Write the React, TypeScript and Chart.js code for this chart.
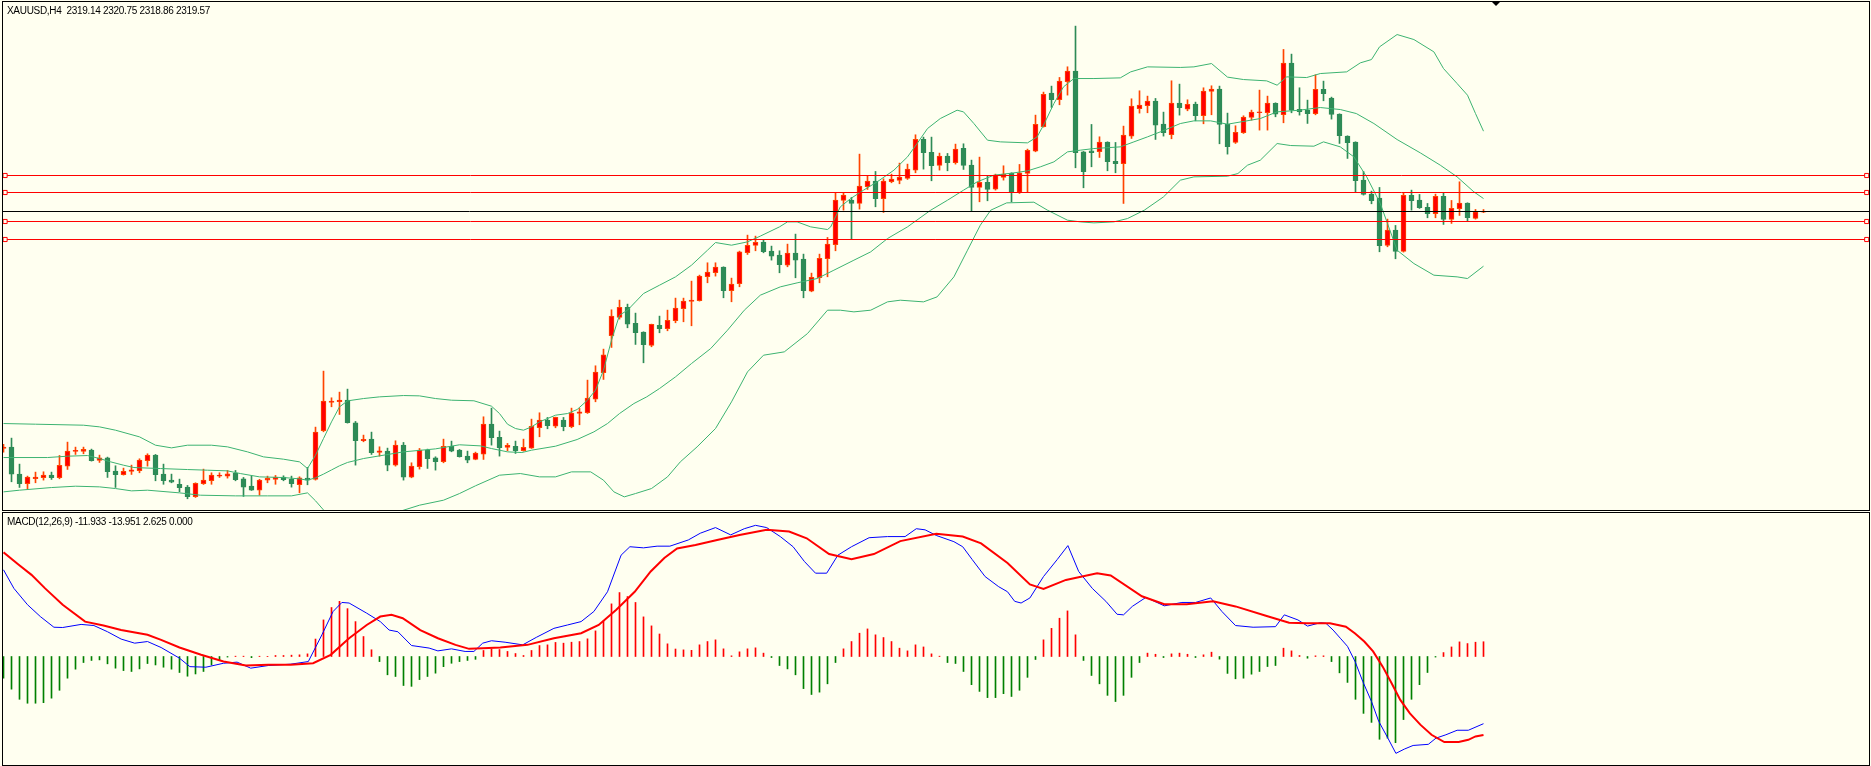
import React, { useEffect, useRef } from "react";
import { Chart, registerables } from "chart.js";

Chart.register(...registerables);

// ---------- data ----------
const symbolLabel = "XAUUSD,H4";
const macdName = "MACD(12,26,9)";
const macdReadout = ["-11.933", "-13.951", "2.625", "0.000"];

const opens = [2177.4,2178.2,2162.0,2156.2,2159.2,2159.8,2161.4,2159.8,2166.8,2175.6,
 2175.6,2176.4,2170.2,2171.8,2163.8,2161.6,2163.6,2164.0,2170.0,2173.4,
 2162.0,2158.4,2155.9,2154.2,2148.4,2156.2,2158.0,2160.8,2160.8,2162.4,
 2159.2,2154.8,2152.4,2158.4,2158.8,2160.2,2158.8,2155.6,2159.6,2158.8,
 2188.0,2205.0,2205.4,2206.4,2192.8,2182.0,2183.0,2175.0,2175.8,2167.4,
 2179.4,2160.2,2166.4,2176.4,2171.8,2169.4,2178.6,2176.4,2172.8,2170.8,
 2174.0,2192.0,2184.0,2178.0,2178.6,2176.0,2177.6,2189.8,2194.4,2190.8,
 2194.4,2190.4,2198.4,2198.8,2207.0,2222.8,2245.0,2256.0,2262.0,2252.4,
 2247.2,2239.2,2251.2,2249.2,2254.0,2261.2,2265.6,2266.0,2280.4,2282.8,
 2286.2,2272.0,2276.2,2294.8,2299.2,2301.2,2295.8,2293.4,2287.4,2294.6,
 2291.0,2271.8,2279.8,2291.2,2299.6,2326.2,2326.4,2324.4,2334.4,2337.8,
 2327.2,2337.4,2338.2,2339.4,2344.4,2362.8,2355.0,2347.2,2352.8,2348.8,
 2357.4,2347.4,2334.0,2337.0,2333.0,2340.0,2342.4,2331.0,2342.4,2355.8,
 2370.4,2390.6,2386.6,2397.4,2403.8,2355.4,2356.0,2355.4,2361.2,2349.6,
 2348.2,2364.8,2381.2,2383.0,2385.8,2372.0,2365.6,2384.6,2381.0,2384.0,
 2377.0,2391.6,2393.0,2371.8,2361.0,2366.8,2376.0,2378.8,2378.8,2384.4,
 2377.6,2408.6,2380.8,2380.4,2378.2,2392.8,2387.6,2378.0,2364.8,2361.2,
 2338.4,2330.0,2327.6,2299.2,2308.4,2295.6,2329.2,2326.4,2322.0,2318.2,
 2328.6,2314.8,2321.2,2324.6,2315.4,2319.14];

const highs = [2179.8,2183.6,2168.0,2160.8,2163.2,2163.4,2163.2,2173.2,2181.2,2178.2,
 2178.2,2177.0,2173.4,2172.2,2167.0,2165.6,2167.4,2171.2,2174.2,2173.8,
 2168.0,2162.0,2159.0,2155.2,2156.8,2165.0,2162.8,2162.8,2164.2,2164.2,
 2160.0,2160.8,2158.9,2160.8,2161.2,2161.0,2160.8,2160.4,2166.0,2190.2,
 2223.8,2207.8,2211.2,2213.0,2193.6,2185.4,2187.2,2178.4,2177.6,2182.0,
 2181.0,2168.8,2177.4,2177.0,2172.4,2183.0,2181.8,2176.8,2175.8,2175.2,
 2196.4,2201.6,2187.8,2180.4,2181.8,2183.0,2195.0,2198.8,2196.0,2196.2,
 2196.0,2201.6,2201.4,2218.4,2227.0,2237.0,2260.6,2266.4,2264.0,2258.6,
 2247.4,2252.0,2256.8,2260.4,2267.6,2267.6,2277.8,2281.4,2288.8,2288.8,
 2286.4,2279.6,2295.8,2305.4,2304.8,2302.4,2298.8,2296.0,2300.0,2306.0,
 2294.0,2282.6,2294.0,2304.0,2330.8,2330.8,2328.0,2354.0,2341.0,2343.6,
 2339.2,2342.0,2348.6,2348.0,2365.6,2364.2,2364.2,2354.6,2354.4,2360.0,
 2360.2,2350.4,2352.2,2340.8,2342.0,2347.0,2342.8,2347.8,2357.0,2377.4,
 2391.2,2394.8,2400.0,2406.4,2430.8,2355.6,2371.8,2364.4,2361.4,2361.0,
 2370.8,2387.2,2392.0,2388.8,2387.4,2379.2,2398.0,2396.0,2386.6,2385.2,
 2393.8,2395.0,2394.8,2378.6,2371.0,2377.0,2380.4,2392.4,2388.8,2384.8,
 2416.8,2414.0,2393.8,2386.4,2401.6,2397.8,2388.2,2378.2,2365.0,2361.4,
 2343.6,2331.8,2334.0,2315.0,2311.2,2330.8,2332.4,2329.8,2324.4,2330.0,
 2330.8,2326.2,2337.4,2324.8,2320.8,2320.75];

const lows = [2175.2,2157.4,2154.0,2152.8,2156.8,2158.4,2158.8,2159.2,2164.8,2173.8,
 2174.2,2169.8,2169.0,2160.0,2154.0,2161.4,2161.8,2162.8,2166.8,2158.0,
 2155.9,2156.8,2151.4,2147.2,2148.0,2155.8,2155.9,2160.0,2159.6,2158.0,
 2148.6,2152.2,2149.4,2156.8,2155.9,2158.0,2154.2,2150.8,2155.6,2158.4,
 2187.4,2202.4,2197.8,2192.6,2167.4,2181.4,2173.8,2172.8,2164.0,2166.8,
 2158.4,2159.8,2165.0,2165.4,2164.4,2168.8,2175.4,2172.2,2168.8,2170.6,
 2170.8,2179.4,2172.8,2176.0,2174.4,2175.8,2177.4,2184.4,2189.2,2189.8,
 2188.0,2189.8,2191.6,2198.4,2205.4,2218.8,2238.0,2255.0,2249.8,2239.8,
 2228.8,2238.4,2246.8,2248.0,2252.8,2253.4,2251.0,2265.8,2276.8,2280.8,
 2267.8,2265.4,2274.4,2293.8,2296.0,2294.8,2290.4,2282.8,2286.4,2279.8,
 2267.8,2271.4,2276.8,2280.4,2296.0,2320.4,2303.0,2321.0,2332.8,2322.4,
 2319.0,2336.8,2336.2,2338.8,2342.8,2345.0,2338.0,2344.4,2344.0,2348.0,
 2344.8,2319.6,2325.4,2326.0,2332.4,2338.4,2325.4,2330.4,2331.4,2355.4,
 2370.2,2382.0,2383.6,2389.4,2345.8,2333.8,2346.4,2352.0,2344.0,2342.8,
 2324.4,2363.4,2378.6,2378.8,2362.8,2364.8,2363.2,2377.4,2380.0,2374.0,
 2372.2,2377.6,2360.2,2354.0,2360.4,2366.4,2374.4,2368.4,2368.4,2376.4,
 2372.8,2378.8,2377.4,2372.4,2377.6,2386.0,2375.0,2360.4,2351.4,2331.0,
 2329.4,2324.2,2295.4,2298.4,2291.2,2295.2,2320.4,2321.4,2315.8,2315.8,
 2311.8,2312.4,2317.2,2314.0,2315.0,2318.86];

const closes = [2178.2,2162.0,2156.2,2160.2,2160.2,2161.4,2159.8,2167.2,2175.8,2176.0,
 2176.8,2170.0,2171.8,2163.4,2161.6,2163.6,2164.6,2170.4,2173.4,2161.6,
 2158.0,2157.2,2153.8,2148.4,2156.4,2158.4,2161.4,2161.4,2162.2,2158.6,
 2154.2,2152.4,2158.4,2159.4,2160.2,2158.6,2156.2,2159.8,2158.4,2187.2,
 2205.8,2205.8,2206.4,2192.8,2182.0,2182.8,2174.8,2176.0,2167.4,2179.4,
 2160.2,2166.8,2176.4,2171.2,2169.4,2178.6,2175.8,2172.4,2170.4,2174.6,
 2192.0,2183.8,2177.8,2179.2,2176.0,2178.0,2190.6,2194.4,2191.0,2196.0,
 2190.4,2198.6,2199.4,2207.6,2223.2,2233.6,2256.8,2262.0,2252.0,2246.8,
 2239.6,2251.8,2249.2,2254.2,2261.6,2265.8,2266.4,2280.8,2283.2,2286.2,
 2272.0,2276.0,2295.4,2299.2,2301.0,2295.4,2292.8,2287.6,2294.6,2290.4,
 2272.0,2280.0,2291.4,2300.0,2326.4,2329.4,2324.4,2334.8,2337.8,2327.2,
 2337.8,2339.0,2340.2,2345.0,2362.8,2354.8,2347.0,2352.8,2348.8,2357.0,
 2347.2,2334.0,2337.0,2332.8,2341.4,2342.0,2331.0,2342.8,2356.2,2371.8,
 2389.8,2386.6,2397.8,2403.8,2354.8,2343.4,2354.8,2361.2,2349.4,2348.2,
 2365.4,2382.8,2383.4,2385.8,2371.4,2366.8,2384.6,2381.8,2383.8,2377.0,
 2391.8,2393.0,2371.8,2358.4,2367.0,2376.2,2379.2,2379.2,2384.6,2378.0,
 2408.6,2380.4,2379.4,2378.2,2392.8,2390.2,2377.8,2365.0,2360.8,2338.0,
 2329.8,2326.0,2299.0,2308.4,2295.6,2329.2,2326.0,2321.8,2318.2,2328.6,
 2314.8,2321.4,2324.6,2315.8,2319.4,2319.57];

// Bollinger bands (20,2), read as [bar index, price]
const bbUpper = [[0,2192.35],[4,2191.95],[10,2191.35],[12,2190.35],[14,2188.35],[17,2184.35],[19,2179.35],[21,2177.75],[23,2179.35],[26,2179.35],[28,2178.35],[30.5,2175.35],[32.5,2172.35],[35,2170.95],[37,2169.35],[38,2165.35],[39,2173.35],[40,2183.35],[41,2193.35],[42,2202.35],[43,2205.95],[45,2207.35],[47,2208.35],[50,2209.15],[52,2208.95],[54,2207.35],[56,2206.35],[58.8,2206.0],[61,2202.75],[62,2198.35],[63,2191.95],[64,2189.35],[65,2188.35],[66,2190.35],[67,2193.35],[69,2197.35],[70.5,2198.35],[71.7,2200.75],[73,2206.35],[74,2212.35],[75,2224.35],[76,2242.35],[77,2257.35],[78,2260.35],[79,2265.35],[80,2270.35],[82,2275.35],[84,2280.35],[86,2287.35],[88,2296.35],[89,2300.95],[91,2299.35],[93,2301.35],[94.6,2304.8],[97,2310.35],[98,2313.35],[99.2,2313.35],[100.9,2310.35],[103,2308.75],[103.4,2310.35],[104.6,2322.35],[105.9,2327.35],[107.5,2332.35],[109.2,2337.35],[111.3,2344.35],[113,2352.35],[114.2,2360.35],[115.5,2369.35],[117.1,2375.35],[119.2,2380.35],[120,2379.35],[121.3,2372.35],[123,2362.35],[124.6,2361.35],[128,2360.75],[129.2,2364.35],[130,2371.35],[131.3,2384.35],[132.5,2394.35],[133.8,2399.35],[136.3,2399.35],[139.6,2399.75],[140.9,2403.35],[143,2406.35],[147.1,2406.0],[148.8,2406.35],[151,2408.35],[153,2400.2],[155,2398.75],[157.9,2397.95],[159.2,2395.35],[160.4,2400.35],[162.9,2399.95],[164.6,2402.35],[167.9,2403.35],[169.6,2408.75],[171,2410.75],[172,2418.35],[174.2,2425.75],[176.3,2422.75],[178.8,2415.35],[180,2405.35],[181.7,2396.35],[183,2389.35],[184,2378.35],[185,2367.75]];

const bbMiddle = [[0,2171.95],[5.5,2171.95],[8,2172.75],[10.5,2173.15],[12,2171.35],[13.4,2169.35],[15,2167.35],[16.3,2165.95],[19.6,2165.35],[23,2164.75],[25.5,2164.35],[28,2163.95],[29.6,2162.35],[32,2160.35],[35,2159.95],[37,2159.15],[38,2158.35],[39,2159.8],[40,2162.0],[41,2164.5],[42,2167.0],[43,2169.0],[45,2171.35],[50,2175.35],[54,2177.15],[57,2179.6],[59.6,2178.95],[61,2177.35],[63,2175.35],[64.8,2174.95],[66,2176.35],[69,2178.75],[71.7,2182.75],[73.8,2187.35],[75.5,2192.35],[77,2198.35],[78.8,2204.35],[80.4,2208.35],[82,2213.35],[84,2220.35],[86,2228.35],[88.4,2237.35],[90.5,2248.35],[92.6,2260.35],[94.6,2269.35],[97.1,2274.35],[99.2,2276.75],[101.7,2279.35],[103.8,2284.35],[106.3,2290.35],[108.4,2295.35],[110.5,2303.35],[113,2310.35],[115.9,2320.35],[118,2326.35],[120,2332.35],[121.7,2337.35],[123.8,2341.35],[126.3,2342.75],[128,2343.95],[129.6,2346.35],[131.3,2349.35],[133,2355.35],[134.6,2356.35],[136.3,2357.35],[139.6,2358.35],[141.3,2361.35],[143,2364.35],[144.6,2367.35],[147.1,2372.35],[148.8,2373.95],[150.9,2373.95],[153,2371.95],[157.1,2375.35],[159.2,2379.35],[162,2380.35],[164.6,2381.95],[167.1,2380.75],[169.1,2378.35],[171.3,2372.35],[174.2,2362.75],[177.1,2354.75],[179.6,2347.35],[181.7,2340.35],[183.8,2331.35],[185,2327.35]];

const bbLower = [[0,2151.35],[2,2152.35],[6,2153.95],[9,2154.75],[12,2154.35],[14,2153.35],[16,2151.95],[18,2152.35],[22,2150.75],[24.6,2149.35],[29,2148.95],[33,2148.95],[36,2148.95],[38,2150.75],[39,2146.0],[40,2140.5],[41,2135.6],[42,2131.65],[43,2132.0],[45,2135.35],[47,2136.5],[49,2139.0],[50,2140.35],[52,2143.35],[55,2146.35],[57,2150.35],[59,2155.0],[62,2161.35],[64.6,2162.35],[67,2160.35],[69,2160.35],[71,2163.35],[73.4,2163.35],[75,2158.35],[76.3,2151.35],[77.6,2148.35],[79,2150.35],[81,2153.35],[83,2160.35],[84.6,2169.35],[86.7,2178.35],[89,2189.35],[91,2205.35],[93,2223.35],[95,2233.35],[97.6,2235.35],[100.5,2246.35],[103,2260.35],[104.6,2260.35],[106.3,2259.35],[108.4,2260.35],[110.5,2265.35],[112.1,2266.35],[115,2265.35],[116.7,2268.35],[118.8,2280.35],[120.5,2296.35],[122.1,2311.35],[123.4,2320.35],[125.4,2324.75],[128.8,2325.15],[130.5,2320.35],[133,2314.35],[134.6,2313.35],[136.3,2312.75],[138.8,2313.35],[140.5,2315.35],[142.6,2320.35],[145,2328.35],[147.1,2338.35],[148.8,2340.35],[153,2340.75],[154.3,2342.35],[155.5,2347.35],[157.1,2350.35],[159.2,2360.35],[160.9,2359.15],[163.8,2358.75],[165,2361.35],[167.1,2358.35],[168.8,2352.35],[170.4,2340.35],[172.1,2324.35],[174.2,2296.35],[176.3,2288.35],[178.8,2281.35],[181.7,2280.35],[183,2279.35],[185,2286.75]];

// horizontal levels
const levelPrices = [2341.17, 2330.97, 2313.57, 2302.77];
const bidPrice = 2319.57;

// MACD, read as [bar index, value]
const macdMain = [[0,15.4],[1.3,12.1],[3,9.2],[4.6,7.1],[6.3,5.2],[7.4,5.15],[9.7,5.7],[11.3,5.5],[13,4.4],[14.7,3.1],[16.4,2.37],[18,2.66],[19.7,1.6],[22,-0.3],[23.3,-1.8],[25.3,-1.9],[27.5,-1.2],[29.2,-1.0],[30.9,-2.07],[33.1,-1.6],[35.9,-1.36],[38.1,-0.9],[39.8,3.85],[41.2,8.0],[42.3,9.6],[43.2,9.5],[45.4,7.7],[47.1,6.2],[48.2,4.7],[49.3,4.4],[51,1.95],[53.2,1.5],[54.3,1.0],[56,1.36],[57.7,0.9],[58.8,0.9],[59.9,2.37],[61,2.8],[62.7,2.54],[64.9,2.07],[66.6,3.4],[68.8,5.0],[70.5,5.6],[72.2,6.2],[73.8,8.0],[75.5,11.5],[77.2,18.0],[78.3,19.5],[80,19.3],[81.7,19.6],[83.3,19.6],[85.6,20.7],[87.1,21.9],[89,22.9],[90.9,21.6],[92.6,22.7],[94,23.3],[95.4,22.9],[97.1,21.3],[98.7,19.5],[100.1,16.9],[101.5,14.8],[102.9,14.8],[104.3,18.0],[106,19.5],[108.2,21.1],[110.5,21.3],[112.7,21.3],[114.1,22.7],[115.2,22.5],[116.6,21.5],[118.8,20.4],[119.9,19.5],[121.1,17.2],[122.7,14.2],[124.4,12.4],[125.5,11.5],[126.4,9.8],[127.2,9.5],[128.3,10.4],[130,14.2],[131.7,17.2],[133.05,19.7],[134.4,15.1],[136.1,12.1],[137.8,9.8],[139.2,7.5],[140,7.4],[141.1,8.9],[142.8,10.5],[145.1,9.0],[147.3,9.6],[149,9.6],[150.9,10.4],[152.3,8.0],[154,5.5],[156.2,5.2],[159,5.3],[160.1,7.4],[161.8,6.5],[163,5.4],[164.6,6.0],[165.3,5.9],[166.2,4.7],[167.1,3.25],[168,1.8],[168.95,-0.9],[169.9,-4.4],[171,-8.0],[171.9,-11.5],[173.05,-14.5],[174.05,-17.2],[175.1,-16.45],[176.2,-15.8],[178.1,-15.6],[179.06,-14.5],[180.3,-13.9],[181.7,-13.1],[183.1,-13.1],[185,-11.933]];

const macdSignal = [[0,18.5],[1.9,16.3],[3.5,14.5],[5.2,12.1],[7.4,9.2],[10.2,6.2],[12.5,5.5],[14.7,4.7],[18,3.85],[19.7,2.96],[22,1.6],[24.7,0.3],[27.5,-0.9],[30.3,-1.6],[33.1,-1.48],[35.9,-1.48],[38.7,-1.2],[40.9,0.3],[43.2,3.25],[45.4,5.6],[47.1,7.1],[48.5,7.4],[49.9,6.8],[52.1,4.7],[54.3,3.25],[56.5,2.07],[58.2,1.36],[59.9,1.48],[62.1,1.6],[65.5,2.07],[68.8,3.25],[72.2,4.14],[74.4,5.6],[76.6,8.3],[78.9,11.5],[80.9,15.1],[82.6,17.5],[84.2,19.2],[86.5,19.8],[89.2,20.7],[92,21.6],[95.4,22.5],[98.2,22.2],[100.4,21.0],[103.2,18.2],[106,17.3],[108.8,18.2],[112.1,20.5],[116.6,21.8],[119.9,21.3],[122.2,20.1],[125.5,16.6],[128.3,12.8],[130,12.0],[132.8,13.6],[136.7,14.8],[138.4,14.4],[142.3,10.7],[145.1,9.3],[147.9,9.3],[151.2,9.8],[154,8.9],[157.9,7.2],[160.7,6.0],[162.9,5.9],[165.8,5.9],[167.8,5.3],[168.95,4.1],[170.1,2.66],[171.2,0.9],[172.4,-1.8],[173.5,-4.7],[174.6,-7.7],[175.8,-10.1],[177.1,-12.1],[178.5,-13.9],[180.1,-15.2],[181.9,-15.2],[183.1,-14.8],[184,-14.2],[185,-13.951]];

const macdHist = [-3.85,-5.8,-7.6,-8.3,-8.3,-8.2,-7.4,-6.0,-3.85,-2.25,
 -1.07,-0.7,-0.6,-1.3,-2.07,-2.5,-2.66,-2.2,-1.25,-1.5,
 -1.9,-2.25,-2.84,-3.5,-3.1,-2.66,-1.5,-0.65,-0.1,0.06,
 0.06,-0.2,0.05,0.03,0.18,0.18,0.24,0.3,0.47,3.1,
 6.5,8.7,9.8,8.5,6.2,3.55,1.2,-0.9,-3.25,-3.55,
 -5.15,-5.3,-4.1,-3.55,-2.96,-1.8,-1.2,-0.9,-0.7,-0.5,
 1.07,1.3,1.24,0.9,0.53,0.18,1.07,1.95,2.07,2.5,
 2.37,2.54,2.66,3.14,4.55,6.33,9.35,11.36,10.65,9.6,
 7.04,5.44,4.0,2.25,1.33,1.18,1.1,2.07,2.66,2.96,
 1.36,0.12,0.83,1.36,1.54,0.6,-0.18,-1.6,-2.2,-3.25,
 -5.7,-6.75,-6.33,-4.85,-1.07,1.36,2.66,4.14,4.9,3.85,
 3.37,2.66,1.48,1.0,2.07,1.7,0.47,0.06,-1.07,-1.24,
 -2.66,-5.0,-6.2,-7.3,-7.3,-6.6,-7.1,-6.0,-3.7,-0.53,
 2.96,5.0,6.8,8.1,3.85,-0.7,-3.37,-4.85,-6.9,-8.0,
 -6.9,-3.7,-1.07,0.6,0.4,-0.18,0.47,0.6,0.4,-0.18,
 0.3,0.77,-0.47,-3.0,-3.96,-3.85,-3.14,-2.66,-1.78,-1.6,
 1.48,1.0,0.18,-0.3,0.12,0.12,-0.9,-2.9,-4.6,-7.6,
 -10.1,-11.7,-14.7,-14.5,-15.3,-11.2,-7.6,-5.0,-2.84,-0.1,
 0.7,1.7,2.6,2.3,2.54,2.625];

// ---------- styling / layout ----------
const BG = "#FFFFF0";
const BULL_FILL = "#FF0000";
const BULL_EDGE = "#FF4500";
const BEAR = "#2E8B57";
const BAND = "#3CB371";
const LEVEL = "#FF0000";

const CANVAS_W = 1866;
const MAIN_H = 508;
const MACD_H = 252;
const X_MIN = -0.0625;
const X_MAX = 233.1875;
const LEVEL_MARK_L = 0.2;
const LEVEL_MARK_R = 232.9;
const PRICE_MAX = 2445.27;
const PRICE_MIN = 2140.47;
const MACD_MAX = 25.49;
const MACD_MIN = -19.27;

const toPts = (arr: number[][]) => arr.map(([x, y]) => ({ x, y }));

const baseOptions = (yMin: number, yMax: number): any => ({
  animation: false,
  responsive: false,
  maintainAspectRatio: false,
  devicePixelRatio: 1,
  events: [],
  layout: { padding: 0 },
  plugins: { legend: { display: false }, tooltip: { enabled: false }, title: { display: false } },
  scales: {
    x: { type: "linear", min: X_MIN, max: X_MAX, display: false, offset: false, grid: { display: false } },
    y: { type: "linear", min: yMin, max: yMax, display: false, grid: { display: false } },
  },
});

export default function App() {
  const mainRef = useRef<HTMLCanvasElement>(null);
  const macdRef = useRef<HTMLCanvasElement>(null);

  useEffect(() => {
    const idx = opens.map((_, i) => i);
    const bull = idx.map((i) => closes[i] >= opens[i]);

    const levelDs = levelPrices.map((p) => ({
      type: "line",
      data: [
        { x: X_MIN, y: p },
        { x: LEVEL_MARK_L, y: p },
        { x: LEVEL_MARK_R, y: p },
        { x: X_MAX, y: p },
      ],
      borderColor: LEVEL,
      borderWidth: 1,
      pointStyle: "rect",
      pointRadius: [0, 2.9, 2.9, 0],
      pointBackgroundColor: BG,
      pointBorderColor: LEVEL,
      pointBorderWidth: 1,
      order: 0,
    }));

    const bandDs = [bbUpper, bbMiddle, bbLower].map((b) => ({
      type: "line",
      data: toPts(b),
      borderColor: BAND,
      borderWidth: 1,
      pointRadius: 0,
      tension: 0,
      order: 1,
    }));

    const main = new Chart(mainRef.current as HTMLCanvasElement, {
      type: "bar",
      data: {
        datasets: [
          ...levelDs,
          {
            type: "line",
            data: [
              { x: X_MIN, y: bidPrice },
              { x: X_MAX, y: bidPrice },
            ],
            borderColor: "#000000",
            borderWidth: 1,
            pointRadius: 0,
            order: 0,
          },
          ...bandDs,
          {
            type: "bar",
            data: idx.map((i) => ({ x: i, y: [opens[i], closes[i]] })),
            backgroundColor: idx.map((i) => (bull[i] ? BULL_FILL : BEAR)),
            borderColor: idx.map((i) => (bull[i] ? BULL_EDGE : BEAR)),
            borderWidth: 1,
            borderSkipped: false,
            barThickness: 5,
            minBarLength: 1,
            grouped: false,
            order: 2,
          },
          {
            type: "bar",
            data: idx.map((i) => ({ x: i, y: [lows[i], highs[i]] })),
            backgroundColor: idx.map((i) => (bull[i] ? BULL_EDGE : BEAR)),
            borderWidth: 0,
            barThickness: 1,
            minBarLength: 1,
            grouped: false,
            order: 3,
          },
        ] as any,
      },
      options: baseOptions(PRICE_MIN, PRICE_MAX),
    });

    const macd = new Chart(macdRef.current as HTMLCanvasElement, {
      type: "bar",
      data: {
        datasets: [
          {
            type: "line",
            data: toPts(macdSignal),
            borderColor: "#FF0000",
            borderWidth: 2,
            pointRadius: 0,
            order: 0,
          },
          {
            type: "line",
            data: toPts(macdMain),
            borderColor: "#0000FF",
            borderWidth: 1,
            pointRadius: 0,
            order: 1,
          },
          {
            type: "bar",
            data: idx.map((i) => ({ x: i, y: macdHist[i] > 0 ? macdHist[i] : null })),
            backgroundColor: "#FF0000",
            barThickness: 1,
            grouped: false,
            order: 2,
          },
          {
            type: "bar",
            data: idx.map((i) => ({ x: i, y: macdHist[i] <= 0 ? macdHist[i] : null })),
            backgroundColor: "#008000",
            barThickness: 1,
            grouped: false,
            order: 2,
          },
        ] as any,
      },
      options: baseOptions(MACD_MIN, MACD_MAX),
    });

    return () => {
      main.destroy();
      macd.destroy();
    };
  }, []);

  const last = opens.length - 1;
  const header = `${symbolLabel}  ${opens[last].toFixed(2)} ${highs[last].toFixed(2)} ${lows[last].toFixed(2)} ${closes[last].toFixed(2)}`;
  const macdText = `${macdName} ${macdReadout.join(" ")}`;

  const textStyle: React.CSSProperties = {
    position: "absolute",
    left: 7,
    fontFamily: "'Liberation Sans', Arial, sans-serif",
    fontSize: 10,
    lineHeight: "10px",
    letterSpacing: "-0.3px",
    color: "#000",
    whiteSpace: "pre",
    zIndex: 3,
  };

  return (
    <div style={{ position: "absolute", left: 0, top: 0, width: 1871, height: 766, background: BG, overflow: "hidden" }}>
      <canvas
        ref={mainRef}
        width={CANVAS_W}
        height={MAIN_H}
        style={{ position: "absolute", left: 3, top: 2, width: CANVAS_W, height: MAIN_H }}
      />
      <canvas
        ref={macdRef}
        width={CANVAS_W}
        height={MACD_H}
        style={{ position: "absolute", left: 3, top: 513, width: CANVAS_W, height: MACD_H }}
      />
      <div
        style={{ position: "absolute", left: 2, top: 1, width: 1868, height: 510, border: "1px solid #000", boxSizing: "border-box", zIndex: 2 }}
      />
      <div
        style={{ position: "absolute", left: 2, top: 512, width: 1868, height: 254, border: "1px solid #000", boxSizing: "border-box", zIndex: 2 }}
      />
      <div
        style={{ position: "absolute", left: 1491, top: 1, width: 0, height: 0, borderLeft: "5px solid transparent", borderRight: "5px solid transparent", borderTop: "5px solid #000", zIndex: 3 }}
      />
      <div style={{ ...textStyle, top: 6 }}>{header}</div>
      <div style={{ ...textStyle, top: 517 }}>{macdText}</div>
    </div>
  );
}
